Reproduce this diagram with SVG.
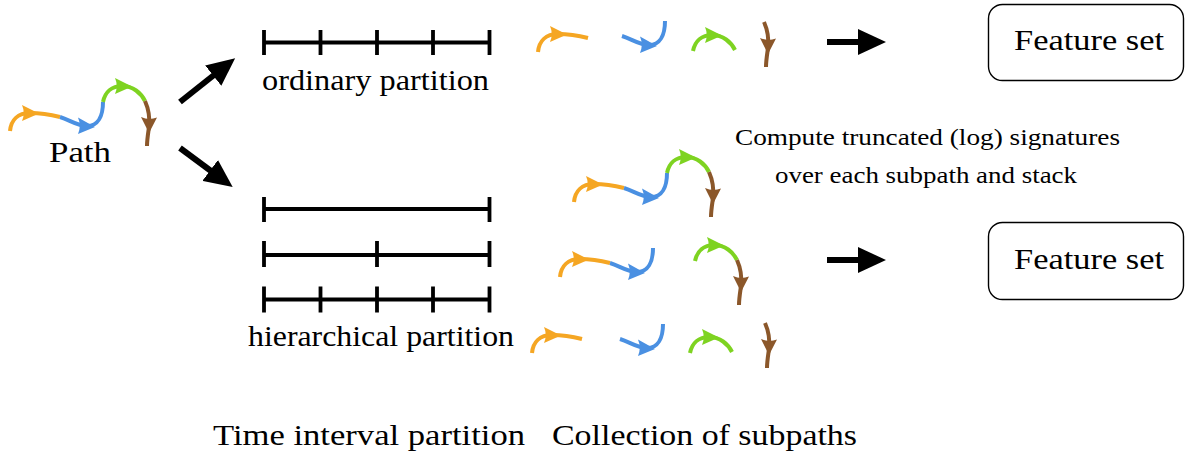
<svg xmlns="http://www.w3.org/2000/svg" xmlns:xlink="http://www.w3.org/1999/xlink" width="1192" height="456" viewBox="0 0 1192 456">
  <style>
    .lbl { font-family: "Liberation Serif", serif; font-size: 29px; fill: #000; }
    .note { font-family: "Liberation Serif", serif; font-size: 23px; fill: #000; }
    .bar { stroke: #000; stroke-width: 3.8; fill: none; }
    .seg { fill: none; stroke-width: 4; }
    .big { stroke: #000; stroke-width: 6; fill: none; marker-end: url(#head); }
    .box { fill: #fff; stroke: #000; stroke-width: 1.4; }
  </style>
  <defs>
    <!-- heavy arrowhead for the flow connectors -->
    <marker id="head" markerUnits="userSpaceOnUse" markerWidth="30" markerHeight="26" refX="1" refY="13" orient="auto">
      <path d="M0,0 L28,13 L0,26 z" fill="#000"/>
    </marker>
    <!-- the four pieces of the sample path, each with its own arrowhead -->
    <g id="seg-orange">
      <path class="seg" stroke="#F5A623" d="M10,131 C11,120 18,113 30,113 C42,113 52,115 60,117"/>
      <path fill="#F5A623" d="M22,105 L39,113.5 L22,121 Q25.5,113 22,105 z"/>
    </g>
    <g id="seg-blue">
      <path class="seg" stroke="#4A90E2" d="M60,117 C70,120 77,126 87,126 C98,126 103,116 103,102"/>
      <path fill="#4A90E2" d="M78,117.5 L95,127 L78,134 Q81.5,126 78,117.5 z"/>
    </g>
    <g id="seg-green">
      <path class="seg" stroke="#7ED321" d="M103,102 C105,92 112,86 122,86 C133,86 141,93 145,101"/>
      <path fill="#7ED321" d="M115,78 L132,86.5 L115,94 Q118.5,86 115,78 z"/>
    </g>
    <g id="seg-brown">
      <path class="seg" stroke="#8B572A" d="M145,101 C149,110 150,118 149,127 C148,134 147,140 147,146"/>
      <path fill="#8B572A" d="M141,117 L149,133 L157,117.5 Q149,120.5 141,117 z"/>
    </g>
  </defs>

  <rect width="1192" height="456" fill="#fff"/>

  <!-- input path -->
  <g id="path-node">
    <use xlink:href="#seg-orange"/>
    <use xlink:href="#seg-blue"/>
    <use xlink:href="#seg-green"/>
    <use xlink:href="#seg-brown"/>
    <text class="lbl" x="49" y="162" textLength="62" lengthAdjust="spacingAndGlyphs">Path</text>
  </g>

  <!-- ordinary partition: one interval split in four -->
  <g id="ordinary-partition">
    <path class="bar" d="M264,42.5 H489.5 M264,30 V55 M320.5,30 V55 M377,30 V55 M433,30 V55 M489.5,30 V55"/>
    <text class="lbl" x="262" y="90" textLength="227" lengthAdjust="spacingAndGlyphs">ordinary partition</text>
  </g>

  <!-- hierarchical partition: levels 0, 1, 2 -->
  <g id="hierarchical-partition">
    <path class="bar" d="M264,209 H489.5 M264,197 V222 M489.5,197 V222"/>
    <path class="bar" d="M264,255 H489.5 M264,241 V267 M377,241 V267 M489.5,241 V267"/>
    <path class="bar" d="M264,299.5 H489.5 M264,286.5 V312.5 M320.5,286.5 V312.5 M377,286.5 V312.5 M433,286.5 V312.5 M489.5,286.5 V312.5"/>
    <text class="lbl" x="248" y="346" textLength="266" lengthAdjust="spacingAndGlyphs">hierarchical partition</text>
  </g>

  <!-- subpaths of the ordinary partition -->
  <g id="subpaths-ordinary">
    <use xlink:href="#seg-orange" transform="translate(528,-79)"/>
    <use xlink:href="#seg-blue" transform="translate(562,-81)"/>
    <use xlink:href="#seg-green" transform="translate(590,-51)"/>
    <use xlink:href="#seg-brown" transform="translate(619,-79)"/>
  </g>

  <!-- subpaths of the hierarchical partition -->
  <g id="subpaths-hierarchical">
    <g id="level-0">
      <use xlink:href="#seg-orange" transform="translate(564,71)"/>
      <use xlink:href="#seg-blue" transform="translate(564,71)"/>
      <use xlink:href="#seg-green" transform="translate(564,71)"/>
      <use xlink:href="#seg-brown" transform="translate(564,71)"/>
    </g>
    <g id="level-1">
      <use xlink:href="#seg-orange" transform="translate(550,146)"/>
      <use xlink:href="#seg-blue" transform="translate(550,146)"/>
      <use xlink:href="#seg-green" transform="translate(592,159)"/>
      <use xlink:href="#seg-brown" transform="translate(592,159)"/>
    </g>
    <g id="level-2">
      <use xlink:href="#seg-orange" transform="translate(522,222)"/>
      <use xlink:href="#seg-blue" transform="translate(560,222)"/>
      <use xlink:href="#seg-green" transform="translate(587,251)"/>
      <use xlink:href="#seg-brown" transform="translate(620,222)"/>
    </g>
  </g>

  <g id="signature-note">
    <text class="note" x="735" y="145" textLength="385" lengthAdjust="spacingAndGlyphs">Compute truncated (log) signatures</text>
    <text class="note" x="775" y="183" textLength="302" lengthAdjust="spacingAndGlyphs">over each subpath and stack</text>
  </g>

  <g id="feature-set-ordinary">
    <rect class="box" x="988.5" y="4.5" width="195" height="76" rx="14"/>
    <text class="lbl" x="1014" y="50" textLength="150" lengthAdjust="spacingAndGlyphs">Feature set</text>
  </g>

  <g id="feature-set-hierarchical">
    <rect class="box" x="988.5" y="222.5" width="195" height="77" rx="14"/>
    <text class="lbl" x="1014" y="269" textLength="150" lengthAdjust="spacingAndGlyphs">Feature set</text>
  </g>

  <!-- flow arrows -->
  <g id="connectors">
    <path class="big" d="M180,102 L214,75"/>
    <path class="big" d="M180,148 L211,171"/>
    <path class="big" d="M827,42 L859,42"/>
    <path class="big" d="M827,260 L859,260"/>
  </g>

  <g id="column-captions">
    <text class="lbl" x="213" y="445" textLength="312" lengthAdjust="spacingAndGlyphs">Time interval partition</text>
    <text class="lbl" x="552" y="445" textLength="305" lengthAdjust="spacingAndGlyphs">Collection of subpaths</text>
  </g>
</svg>
